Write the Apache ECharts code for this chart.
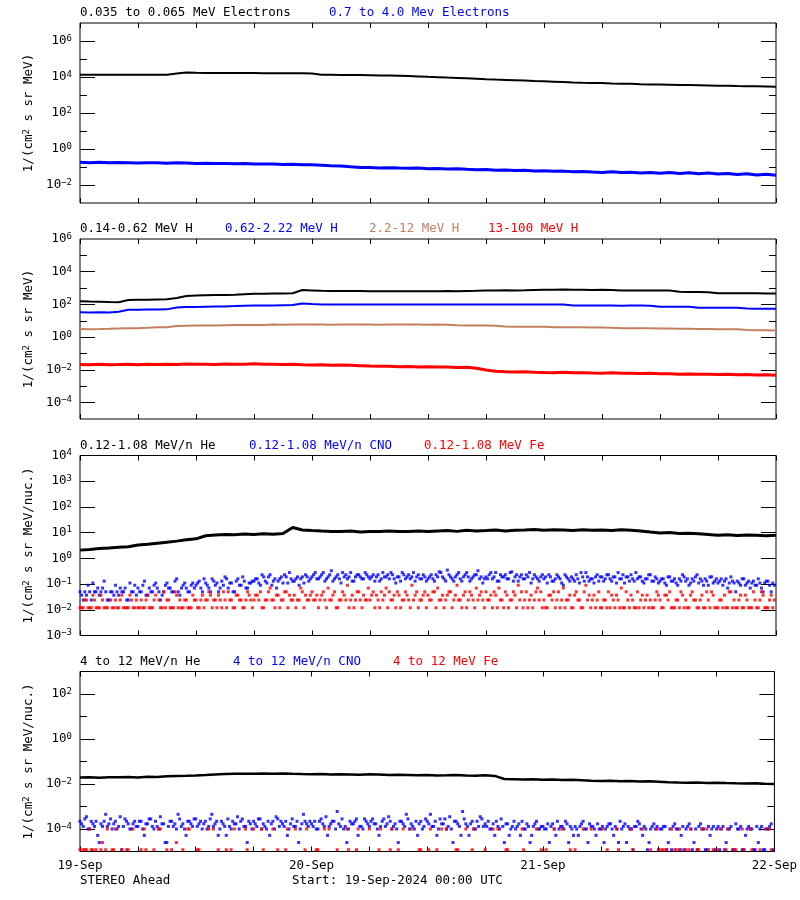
<!DOCTYPE html>
<html><head><meta charset="utf-8">
<script src="https://cdn.jsdelivr.net/npm/echarts@6/dist/echarts.min.js"></script>
<style>html,body{margin:0;padding:0;background:#fff}#c{width:800px;height:900px}</style>
</head><body><div id="c"></div>
<script>
const _ = null;
// ---------- labels ----------
const dayLabels = ['19-Sep', '20-Sep', '21-Sep', '22-Sep'];
const spacecraft = 'STEREO Ahead';
const startLabel = 'Start: 19-Sep-2024 00:00 UTC';
const titles1 = ['0.035 to 0.065 MeV Electrons', '0.7 to 4.0 Mev Electrons'];
const titles2 = ['0.14-0.62 MeV H', '0.62-2.22 MeV H', '2.2-12 MeV H', '13-100 MeV H'];
const titles3 = ['0.12-1.08 MeV/n He', '0.12-1.08 MeV/n CNO', '0.12-1.08 MeV Fe'];
const titles4 = ['4 to 12 MeV/n He', '4 to 12 MeV/n CNO', '4 to 12 MeV Fe'];
const unitE = '1/(cm{s|2} s sr MeV)';
const unitN = '1/(cm{s|2} s sr MeV/nuc.)';
// ---------- tick values ----------
const p1Major = [1e-2, 1, 1e2, 1e4, 1e6];
const p1Minor = [1e-1, 1e1, 1e3, 1e5];
const p1Labels = [1e-2, 1, 1e2, 1e4, 1e6];
const p2Major = [1e-4, 1e-2, 1, 1e2, 1e4];
const p2Minor = [1e-3, 1e-1, 1e1, 1e3, 1e5];
const p2Labels = [1e-4, 1e-2, 1, 1e2, 1e4, 1e6];
const p3Major = [1e-2, 1e-1, 1, 1e1, 1e2, 1e3];
const p3Minor = [];
const p3Labels = [1e-3, 1e-2, 1e-1, 1, 1e1, 1e2, 1e3, 1e4];
const p4Major = [1e-4, 1e-2, 1, 1e2];
const p4Minor = [1e-3, 1e-1, 1e1];
const p4Labels = [1e-4, 1e-2, 1, 1e2];
// ---------- time sampling (hours since 19-Sep 00:00) ----------
const lineStepHours = 1;       // hourly line series
const dotStepHours = 1 / 3;    // 20-minute dot series
const dotOffsetHours = 1 / 6;  // second dot array sits between the first one's samples
// ---------- panel 1: electrons ----------
const elecLo = [13500,13400,13500,13500,13400,13500,13500,13400,13500,13500,
  15800,17800,17000,16600,16600,16500,16600,16500,16500,16400,16400,16300,16300,16200,
  15800,13200,13200,12900,12900,12900,12600,12300,12000,11700,11200,10700,10200,9800,
  9300,8900,8500,8100,7600,7200,6900,6600,6300,6000,5750,5500,5250,5000,4800,
  4700,4570,4370,4270,4170,3980,3890,3800,3720,3630,3550,3470,3390,3310,
  3240,3160,3090,3020,2950,2880];
const elecHi = [.182,.174,.182,.170,.178,.174,.166,.174,.170,.162,.170,.166,.158,.162,.155,.158,
  .151,.155,.148,.145,.148,.138,.141,.135,.132,.126,.117,.112,.102,.095,.093,.089,.091,.087,
  .085,.087,.081,.083,.078,.079,.074,.071,.072,.065,.068,.063,.065,.060,.062,.058,.059,.055,
  .056,.052,.050,.054,.049,.051,.047,.050,.045,.049,.044,.048,.042,.046,.041,.044,.038,.042,
  .036,.040,.035];
// ---------- panel 2: protons ----------
const protA = [155,151,148,141,138, 186,195,195,204,209, 251,331,355,363,372,380,389,
  427,447,457,468,468,479, 759,724,676,661,661,661,661,646,646,646,
  631,646,631,646,646,661,646,661,676, 724,724,741,724,741,776,794,794,813,794,794,776,794,776,
  724,724,724,708,724,708, 589,575,575,562, 490,479,479,479,479,468,468];
const protB = [33.1,32.4,33.1,32.4,35.5, 47.9,47.9,49,49,50.1, 66.1,69.2,70.8,72.4,74.1,75.9,79.4,
  83.2,85.1,85.1,87.1,89.1,91.2, 115,107,
  100,99,100,98,100,99,100,100,98,100,99,100,98,100,99,100,100,98,99,100,98,99,100,98,99,98,
  86,85,85,86,85,84,85,85,84, 73,72,73,72, 63,63,62,63,62, 56,55,55,55];
const protC = [3.16,3.09,3.16,3.24, 3.39,3.47,3.55,3.72, 3.98,4.07,
  4.79,5.01,5.13,5.25,5.25,5.37,5.5,5.5,5.62,5.62,
  5.89,5.75,5.89,6.03,5.89,5.89,5.75,5.89,6.03,5.89,5.89,5.75,5.89,5.89,6.03,5.89,5.75,5.89,5.75,
  5.37,5.25,5.25,5.13,5.01, 4.47,4.37,4.37,4.37,4.27, 4.07,3.98,3.98,3.98,3.89,3.89,3.8,
  3.55,3.47,3.47,3.47,3.39,3.39,3.31,3.24, 3.16,3.16,3.09,3.09,3.02, 2.75,2.69,2.63,2.57];
const protD = [.0214,.0204,.0219,.0209,.0214,.0224,.0209,.0219,.0214,.0224,.0214,.0229,.0219,
  .0224,.0214,.0229,.0219,.0224,.0234,.0219,.0224,.0214,.0219,.0209,.0200,
  .0204,.0195,.0200,.0191,.0182,.0174,.0170,.0166,.0158,.0162,
  .0151,.0155,.0148,.0151,.0141,.0145,.0126,
  .0100,.0083,.0078,.0074,.0076,.0071,.0069,
  .0068,.0071,.0066,.0068,.0065,.0063,.0066,.0062,.0063,.0060,.0062,.0059,
  .0058,.0055,.0056,.0054,.0055,.0052,.0054,.0050,.0052,.0049,.0050,.0047];
// ---------- panel 3: 0.12-1.08 MeV/n ions ----------
const heLow = [2.09,2.19,2.40, 2.51,2.69,2.82, 3.31,3.55,3.89,4.27, 4.68,5.25,5.75,7.59,
  8.13,8.51,8.32,8.91,8.51,9.12,8.71,9.33, 15.8,
  12.6,12.0,11.5,11.2,11.0,11.5,10.7,11.2,11.0,11.5,11.0,
  11.2,11.7,11.0,11.5,12.0,11.2,12.3,11.5,12.0,12.6,11.7,12.3,
  12.6,13.2,12.3,12.9,12.6,12.0,12.9,12.3,12.6,12.0,12.9,12.3,11.7,
  10.5,9.77,10.2,9.33,9.55,9.12,8.51, 7.94,8.32,7.76,8.13,7.94,7.59,7.94];
const cnoLow = [
  .05,.024,.037,.05,.11,.05,.037,.07,.05,.024,.05,.09,.037,.05,.07,.024,.05,.09,
  .07,.05,.13,.037,.05,.09,.07,.024,.05,.11,.07,.05,.16,.037,.09,.07,.05,.11,
  .09,.13,.05,.11,.07,.16,.09,.05,.13,.19,.07,.11,.05,.16,.09,.13,.07,.11,
  .13,.16,.09,.19,.11,.23,.13,.07,.16,.11,.19,.28,.13,.16,.09,.19,.23,.13,
  .19,.28,.16,.23,.13,.19,.33,.16,.23,.11,.19,.16,.28,.13,.23,.19,.16,.23,
  .16,.23,.19,.13,.28,.19,.16,.23,.11,.19,.28,.16,.23,.19,.13,.23,.16,.19,
  .16,.23,.13,.19,.28,.16,.35,.19,.13,.23,.16,.19,.28,.13,.19,.23,.16,.11,
  .19,.23,.16,.28,.13,.19,.23,.16,.30,.19,.13,.23,.16,.19,.11,.23,.16,.19,
  .16,.11,.19,.13,.23,.16,.09,.19,.13,.16,.23,.11,.19,.28,.13,.16,.19,.13,
  .19,.16,.23,.13,.19,.28,.16,.11,.19,.23,.13,.16,.19,.11,.16,.23,.13,.16,
  .13,.16,.09,.19,.13,.11,.16,.23,.13,.09,.16,.19,.11,.13,.16,.09,.19,.13,
  .11,.16,.13,.07,.19,.11,.13,.09,.16,.11,.07,.13,.09,.11,.05,.13,.09,.11];
const cnoLowB = [
  .037,.05,.09,.024,.05,.07,.05,.13,.024,.05,.037,.05,.07,.05,.024,.11,.05,.037,
  .05,.09,.037,.07,.05,.11,.05,.037,.09,.07,.05,.13,.05,.07,.11,.05,.09,.07,
  .11,.07,.16,.09,.05,.13,.11,.07,.09,.16,.11,.05,.13,.09,.19,.07,.11,.13,
  .16,.11,.23,.13,.19,.09,.16,.13,.19,.23,.11,.16,.13,.19,.16,.11,.19,.16,
  .23,.16,.19,.28,.16,.23,.13,.19,.16,.28,.23,.19,.13,.19,.23,.16,.28,.19,
  .19,.13,.23,.16,.19,.23,.28,.16,.19,.13,.23,.19,.16,.28,.19,.16,.23,.13,
  .19,.16,.23,.30,.19,.13,.23,.16,.19,.28,.13,.23,.19,.16,.23,.33,.19,.16,
  .16,.28,.19,.13,.23,.19,.16,.28,.13,.23,.19,.16,.23,.28,.16,.19,.13,.23,
  .19,.23,.13,.16,.19,.11,.23,.16,.19,.13,.16,.28,.13,.19,.16,.11,.23,.19,
  .13,.23,.16,.19,.11,.16,.23,.19,.13,.16,.28,.19,.13,.16,.23,.13,.19,.11,
  .16,.11,.19,.13,.16,.09,.13,.19,.16,.11,.13,.23,.16,.09,.13,.19,.11,.16,
  .13,.09,.16,.11,.13,.05,.11,.16,.09,.13,.11,.09,.16,.07,.11,.13,.05,.09];
const feLow = [
  .012,.012,.024,.012,.037,.012,.012,.024,.012,_,.012,.024,.012,.037,.012,.012,.024,.012,
  .012,.024,.012,.037,.012,.024,_,.012,.05,.024,.012,.012,.037,.024,.012,.024,.012,.037,
  .024,.012,.037,.024,.05,.012,.024,.037,.012,.024,.05,.024,.012,.037,.024,.012,.05,.024,
  .024,.037,.05,.012,.024,.07,.024,.037,.012,.024,.05,.037,.024,.012,.024,.05,.037,.024,
  .05,.024,.012,.037,.024,.07,.024,.05,.012,.024,.037,.09,.024,.012,.05,.024,.037,.024,
  .024,.05,.037,.012,.024,.07,.05,.024,.012,.037,.024,.05,.024,.09,.037,.012,.024,.05,
  .037,.024,.05,.07,.024,.012,.037,.05,.024,.09,.024,.037,.012,.05,.024,.07,.037,.024,
  .05,.024,.012,.037,.07,.024,.05,.012,.024,.037,.09,.05,.024,.012,.037,.024,.07,.05,
  .024,.012,.037,.05,.024,.012,.07,.024,.037,.012,.05,.024,.012,.09,.037,.024,.012,.05,
  .012,.024,.05,.037,.012,.024,.07,.012,.024,.037,.012,.05,.024,.012,.037,.024,.012,.05,
  .024,.012,.037,.05,.012,.024,.012,.037,.024,.012,.05,.024,.012,.037,.012,.024,.05,.012,
  .012,.024,.037,.012,.05,.024,.012,.037,.012,.024,.012,.05,.012,.024,.037,.012,.024,.012];
const feLowB = [
  .012,.024,.012,.012,.024,.012,.037,.012,.012,.024,.012,.012,.024,.012,.012,.037,.012,.024,
  .012,.012,.024,.012,.012,.037,.024,.012,.012,.024,.012,.05,.012,.012,.024,.012,.012,.024,
  .012,.024,.012,.024,.037,.024,.012,.024,.05,.012,.024,.012,.037,.024,.012,.024,.037,.012,
  .037,.024,.012,.024,.05,.024,.012,.037,.024,.05,.012,.024,.037,.024,.07,.012,.024,.037,
  .024,.037,.024,.05,.012,.024,.037,.012,.024,.05,.024,.012,.037,.024,.05,.012,.024,.07,
  .037,.012,.024,.05,.037,.012,.024,.037,.05,.012,.024,.037,.012,.024,.05,.024,.037,.012,
  .024,.05,.012,.024,.037,.024,.05,.012,.037,.024,.012,.05,.024,.037,.012,.024,.05,.012,
  .024,.037,.05,.012,.024,.012,.037,.024,.05,.012,.024,.012,.05,.024,.012,.05,.024,.012,
  .012,.037,.024,.012,.05,.024,.012,.024,.012,.037,.024,.012,.05,.024,.012,.037,.024,.012,
  .024,.012,.012,.024,.037,.012,.012,.05,.012,.024,.012,.012,.037,.024,.012,.012,.024,.037,
  .012,.037,.024,.012,.012,.024,.05,.012,.012,.037,.024,.012,.024,.012,.05,.012,.037,.012,
  .024,.012,.012,.05,.012,.012,.024,.012,.037,.012,.012,.024,.012,.05,.012,.012,.037,.024];
// ---------- panel 4: 4-12 MeV/n ions ----------
const heHigh = [.0195,.0200,.0191,.0200, .0200,.0204,.0195,.0209,.0204,.0219, .0229,.0234,.0240,.0251,
  .0263,.0275,.0282,.0288,.0282,.0295,.0288,.0295,.0282,
  .0275,.0269,.0275,.0263,.0269,.0263,.0257,.0269,.0263,.0251,.0257,.0251,.0245,.0251,.0240,.0245,.0251,.0240,.0234,.0245,.0229,
  .0166,.0162,.0158,.0162,.0155,.0158,.0151,.0155,.0148,
  .0138,.0135,.0138,.0132,.0135,.0129,.0132,.0126,
  .0120,.0117,.0115,.0117,.0112,.0115,.0110, .0107,.0105,.0107,.0102,.0100];
const cnoHigh = [
  2.2e-4,1.3e-4,3.5e-4,1e-4,1.7e-4,2.2e-4,2.5e-5,1.3e-4,4.5e-4,1.7e-4,1e-4,2.2e-4,1.3e-4,1.2e-5,2.8e-4,1.7e-4,1e-4,2.2e-4,
  1.3e-4,2.2e-4,5.2e-5,1.7e-4,2.8e-4,1e-4,1.3e-4,3.5e-4,1.7e-4,2.5e-5,2.2e-4,1.3e-4,1e-4,2.8e-4,1.7e-4,5.2e-5,2.2e-4,1.3e-4,
  2.8e-4,1.7e-4,1e-4,2.2e-4,1.3e-4,4.5e-4,1.7e-4,5.2e-5,2.2e-4,1.3e-4,2.8e-4,1e-4,1.7e-4,3.5e-4,2.2e-4,1.3e-4,2.5e-5,1.7e-4,
  2.2e-4,1.3e-4,2.8e-4,1.7e-4,1e-4,5.2e-5,2.2e-4,3.5e-4,1.3e-4,1.7e-4,2.2e-4,1e-4,2.8e-4,1.3e-4,2.5e-5,1.7e-4,2.2e-4,1.3e-4,
  1.7e-4,2.2e-4,1e-4,2.8e-4,1.3e-4,5.2e-5,1.7e-4,2.2e-4,6e-4,1.3e-4,1e-4,2.5e-5,2.2e-4,1.7e-4,2.8e-4,1.3e-4,1e-4,2.2e-4,
  1.3e-4,2.8e-4,1.7e-4,5.2e-5,2.2e-4,1.3e-4,3.5e-4,1e-4,1.7e-4,2.5e-5,2.2e-4,1.3e-4,2.8e-4,1.7e-4,1e-4,5.2e-5,2.2e-4,1.3e-4,
  2.2e-4,4.5e-4,1.3e-4,5.2e-5,2.8e-4,1.7e-4,1e-4,3.5e-4,2.5e-5,2.2e-4,1.3e-4,6e-4,1.7e-4,5.2e-5,2.2e-4,1e-4,1.3e-4,2.8e-4,
  1.7e-4,2.2e-4,1e-4,5.2e-5,1.3e-4,2.8e-4,2.5e-5,1.7e-4,1e-4,2.2e-4,1.3e-4,5.2e-5,1e-4,1.7e-4,2.5e-5,1.3e-4,2.2e-4,1e-4,
  1.3e-4,1e-4,2.5e-5,1.7e-4,5.2e-5,1e-4,1.3e-4,2.2e-4,2.5e-5,1e-4,1.3e-4,5.2e-5,1.7e-4,1e-4,2.5e-5,1.3e-4,1e-4,1.7e-4,
  1e-4,2.5e-5,1.3e-4,1.7e-4,5.2e-5,1e-4,2.2e-4,1.3e-4,2.5e-5,1e-4,1.2e-5,1.3e-4,1.7e-4,5.2e-5,1e-4,2.5e-5,1.3e-4,1e-4,
  1.2e-5,1e-4,1.3e-4,2.5e-5,1.2e-5,1.7e-4,1e-4,5.2e-5,1.2e-5,1.3e-4,1e-4,2.5e-5,1.2e-5,1.7e-4,1e-4,1.2e-5,5.2e-5,1.3e-4,
  1e-4,1.2e-5,1.3e-4,2.5e-5,1e-4,1.2e-5,1.7e-4,1e-4,1.2e-5,5.2e-5,1.3e-4,1e-4,1.2e-5,2.5e-5,1.3e-4,1.2e-5,1e-4,1.7e-4];
const cnoHighB = [
  1.7e-4,2.8e-4,1e-4,2.2e-4,1.3e-4,5.2e-5,1.7e-4,2.2e-4,1.3e-4,2.8e-4,1.7e-4,1e-4,3.5e-4,1.3e-4,2.2e-4,1e-4,1.7e-4,1.3e-4,
  2.2e-4,1e-4,1.7e-4,2.8e-4,1.3e-4,2.2e-4,1e-4,1.7e-4,2.5e-5,1.3e-4,2.2e-4,1.7e-4,4.5e-4,1.3e-4,1e-4,2.2e-4,1.7e-4,2.8e-4,
  1.3e-4,2.2e-4,1.7e-4,1e-4,2.8e-4,1.3e-4,2.2e-4,1e-4,1.7e-4,5.2e-5,1.3e-4,2.2e-4,1.7e-4,1e-4,2.8e-4,1.3e-4,2.2e-4,1e-4,
  1.7e-4,2.8e-4,1e-4,1.3e-4,2.2e-4,1.7e-4,1e-4,2.8e-4,2.2e-4,1.3e-4,5.2e-5,1.7e-4,1.3e-4,2.2e-4,1e-4,4.5e-4,1.7e-4,2.2e-4,
  1.3e-4,1e-4,2.2e-4,1.7e-4,3.5e-4,1.3e-4,2.2e-4,1e-4,1.7e-4,2.8e-4,1.3e-4,1e-4,1.7e-4,2.2e-4,5.2e-5,1.3e-4,2.8e-4,1.7e-4,
  2.2e-4,1.7e-4,1e-4,1.3e-4,2.8e-4,1.7e-4,2.2e-4,1.3e-4,1e-4,2.2e-4,1.7e-4,4.5e-4,1e-4,1.3e-4,2.2e-4,1.7e-4,1e-4,2.8e-4,
  1.7e-4,1.3e-4,2.2e-4,1e-4,1.7e-4,2.8e-4,1.3e-4,1e-4,2.2e-4,1.7e-4,5.2e-5,2.8e-4,1.3e-4,1.7e-4,1e-4,2.2e-4,3.5e-4,1.3e-4,
  1.3e-4,1e-4,1.7e-4,2.2e-4,1e-4,1.3e-4,1.7e-4,5.2e-5,1.3e-4,1e-4,1.7e-4,2.2e-4,1e-4,1.3e-4,5.2e-5,1.7e-4,1e-4,1.3e-4,
  1e-4,1.7e-4,1.3e-4,1e-4,2.2e-4,1.3e-4,1e-4,1.7e-4,1.3e-4,5.2e-5,1e-4,1.3e-4,2.2e-4,1e-4,1.7e-4,1.3e-4,5.2e-5,1e-4,
  1.3e-4,1e-4,1.7e-4,1e-4,1.3e-4,2.5e-5,1e-4,1.7e-4,1.3e-4,1e-4,1.3e-4,2.2e-4,1e-4,1.3e-4,1.2e-5,1e-4,1.7e-4,1.3e-4,
  1e-4,1.3e-4,1.2e-5,1e-4,1.3e-4,1e-4,1.2e-5,1.3e-4,1e-4,1.7e-4,1.2e-5,1e-4,1.3e-4,1e-4,1.2e-5,1.3e-4,1e-4,1.2e-5,
  1.3e-4,1e-4,1.2e-5,1e-4,1.3e-4,1.2e-5,1e-4,1.3e-4,1.2e-5,1e-4,1e-4,1.2e-5,1.3e-4,1e-4,1.2e-5,1e-4,1.3e-4,1.2e-5];
const feHigh = [
  1.2e-5,1.2e-5,1.2e-5,1e-4,1.2e-5,1.2e-5,_,2.5e-5,1.2e-5,_,1.2e-5,1e-4,_,1.2e-5,_,1.2e-5,_,_,
  _,1.2e-5,1e-4,_,_,1.2e-5,_,1e-4,_,1.2e-5,_,_,2.5e-5,_,1.2e-5,_,1e-4,_,
  _,1.2e-5,_,_,1e-4,_,_,1.2e-5,_,_,_,1.2e-5,1e-4,_,_,_,1.2e-5,_,
  1e-4,_,_,1.2e-5,_,_,1e-4,_,_,_,1.2e-5,_,_,1e-4,_,_,1.2e-5,_,
  _,_,1.2e-5,_,1e-4,_,_,_,1.2e-5,_,_,1e-4,_,_,1.2e-5,_,_,_,
  1e-4,_,_,1.2e-5,_,_,_,1e-4,_,1.2e-5,_,_,_,1e-4,_,_,1.2e-5,_,
  _,1e-4,_,1.2e-5,_,_,1e-4,_,_,1.2e-5,_,_,1e-4,_,1.2e-5,_,_,_,
  1.2e-5,_,_,_,1e-4,_,_,1.2e-5,_,_,_,_,1.2e-5,_,_,_,1e-4,_,
  _,1.2e-5,_,_,_,_,1e-4,_,_,_,1.2e-5,_,_,_,_,1e-4,_,_,
  _,_,1.2e-5,_,_,1e-4,_,_,_,_,1.2e-5,_,_,1e-4,_,_,_,_,
  1.2e-5,1.2e-5,_,_,1e-4,1.2e-5,_,1.2e-5,_,_,1e-4,_,1.2e-5,_,_,1e-4,_,1.2e-5,
  _,1e-4,_,1.2e-5,_,_,1.2e-5,_,1e-4,_,_,1.2e-5,_,_,_,1e-4,_,1.2e-5];
const feHighB = [
  _,1.2e-5,_,1.2e-5,_,_,1.2e-5,_,1e-4,_,1.2e-5,_,_,_,1.2e-5,_,1e-4,_,
  _,_,1.2e-5,_,_,_,1e-4,_,_,_,1.2e-5,_,_,_,_,1e-4,_,_,
  1.2e-5,_,_,_,_,1e-4,_,_,_,1.2e-5,_,_,_,_,_,1e-4,_,_,
  _,_,1e-4,_,_,_,_,1.2e-5,_,_,1e-4,_,_,_,_,_,1e-4,_,
  _,1.2e-5,_,_,_,1e-4,_,_,_,_,_,1.2e-5,_,_,1e-4,_,_,_,
  _,_,_,1e-4,_,_,1.2e-5,_,_,_,1e-4,_,_,_,_,1.2e-5,_,_,
  1.2e-5,_,_,_,1e-4,_,_,_,_,1.2e-5,_,_,_,_,1e-4,_,_,_,
  _,_,1e-4,_,_,_,1.2e-5,_,_,_,_,1e-4,_,_,_,_,_,1.2e-5,
  _,_,_,1e-4,_,_,_,_,1.2e-5,_,_,_,1e-4,_,_,_,_,_,
  1e-4,_,_,_,_,1.2e-5,_,_,_,1e-4,_,_,_,_,_,1.2e-5,_,1e-4,
  _,1.2e-5,1.2e-5,_,_,1.2e-5,1e-4,_,1.2e-5,1.2e-5,_,_,1.2e-5,1e-4,_,1.2e-5,_,_,
  1.2e-5,_,_,1e-4,_,1.2e-5,_,_,1.2e-5,_,1e-4,_,_,1.2e-5,_,_,1e-4,_];

// ---------- styling / layout ----------
const FONT = '"DejaVu Sans Mono", monospace';
const FS = 12.5;
const BLACK = '#000000', BLUE = '#0000ff', TAN = '#c48060', RED = '#ff0000';
const GRID_LEFT = 80, GRID_W = 696, GRID_H = 180;
const panels = [
  { top: 23, min: 1e-3, max: 1e7, major: p1Major, minor: p1Minor, labels: p1Labels, unit: unitE,
    titles: titles1, titleX: [80, 329], colors: [BLACK, BLUE],
    series: [{ d: [elecLo], kind: 'line', w: 2 }, { d: [elecHi], kind: 'line', w: 3 }] },
  { top: 239, min: 1e-5, max: 1e6, major: p2Major, minor: p2Minor, labels: p2Labels, unit: unitE,
    titles: titles2, titleX: [80, 225, 369, 488], colors: [BLACK, BLUE, TAN, RED],
    series: [{ d: [protA], kind: 'line', w: 2 }, { d: [protB], kind: 'line', w: 2 },
             { d: [protC], kind: 'line', w: 2 }, { d: [protD], kind: 'line', w: 3 }] },
  { top: 455.5, min: 1e-3, max: 1e4, major: p3Major, minor: p3Minor, labels: p3Labels, unit: unitN,
    titles: titles3, titleX: [80, 249, 424], colors: [BLACK, BLUE, RED],
    series: [{ d: [heLow], kind: 'line', w: 3 }, { d: [cnoLow, cnoLowB], kind: 'dot' }, { d: [feLow, feLowB], kind: 'dot' }] },
  { top: 671.5, min: 1e-5, max: 1e3, major: p4Major, minor: p4Minor, labels: p4Labels, unit: unitN,
    titles: titles4, titleX: [80, 233, 393], colors: [BLACK, BLUE, RED],
    series: [{ d: [heHigh], kind: 'line', w: 2.5 }, { d: [cnoHigh, cnoHighB], kind: 'dot' }, { d: [feHigh, feHighB], kind: 'dot' }] }
];

function expLabel(v) {
  const e = Math.round(Math.log10(v));
  return '10{s|' + String(e).replace('-', '\u2212') + '}';
}
const supRich = { s: { fontSize: 9, fontFamily: FONT, color: '#000', verticalAlign: 'top', lineHeight: 10 } };

const grid = [], xAxis = [], yAxis = [], series = [], graphic = [];
panels.forEach((p, g) => {
  grid.push({ left: GRID_LEFT, top: p.top, width: GRID_W, height: GRID_H, show: true,
    borderColor: '#000', borderWidth: 1, backgroundColor: 'transparent' });
  ['bottom', 'top'].forEach(pos => {
    xAxis.push({ gridIndex: g, type: 'value', min: 0, max: 72, interval: 6, position: pos,
      axisLine: { show: false }, splitLine: { show: false },
      axisTick: { show: true, inside: true, length: 5, lineStyle: { color: '#000', width: 1 } },
      axisLabel: { show: pos === 'bottom' && g === 3, showMinLabel: true, showMaxLabel: true,
        formatter: v => (v % 24 === 0 ? dayLabels[v / 24] : ''), margin: 8,
        color: '#000', fontFamily: FONT, fontSize: FS } });
  });
  const yBase = { gridIndex: g, type: 'log', logBase: 10, min: p.min, max: p.max,
    axisLine: { show: false }, splitLine: { show: false }, minorTick: { show: false } };
  ['left', 'right'].forEach(pos => {
    yAxis.push(Object.assign({}, yBase, { position: pos,
      axisTick: { show: true, inside: true, length: 15, customValues: p.major, lineStyle: { color: '#000' } },
      axisLabel: pos === 'left' ? { show: true, customValues: p.labels, formatter: expLabel, margin: 8,
        color: '#000', fontFamily: FONT, fontSize: FS, lineHeight: 14, rich: supRich } : { show: false },
      name: pos === 'left' ? p.unit : '', nameLocation: 'middle', nameGap: 40,
      nameTextStyle: { color: '#000', fontFamily: FONT, fontSize: FS, rich: supRich } }));
    yAxis.push(Object.assign({}, yBase, { position: pos,
      axisTick: { show: p.minor.length > 0, inside: true, length: 7,
        customValues: p.minor.length ? p.minor : [p.min], lineStyle: { color: '#000' } },
      axisLabel: { show: false } }));
  });
  p.series.forEach((s, k) => {
    const step = s.kind === 'line' ? lineStepHours : dotStepHours;
    let data = [];
    s.d.forEach((arr, j) => {
      data = data.concat(arr.map((v, i) => [i * step + j * dotOffsetHours, v]).filter(d => d[1] !== null));
    });
    const base = { xAxisIndex: g * 2, yAxisIndex: g * 4, data, silent: true, animation: false, z: 3 + k };
    if (s.kind === 'line') {
      series.push(Object.assign(base, { type: 'line', showSymbol: false, symbol: 'none',
        lineStyle: { color: p.colors[k], width: s.w } }));
    } else {
      series.push(Object.assign(base, { type: 'scatter', symbol: 'rect', symbolSize: [3, 3],
        itemStyle: { color: p.colors[k] } }));
    }
  });
  p.titles.forEach((t, k) => {
    graphic.push({ type: 'text', x: p.titleX[k], y: p.top - 10, silent: true,
      style: { text: t, fill: p.colors[k], font: FS + 'px ' + FONT, verticalAlign: 'middle', align: 'left' } });
  });
});
graphic.push({ type: 'text', x: 80, y: 881, silent: true,
  style: { text: spacecraft, fill: '#000', font: FS + 'px ' + FONT, verticalAlign: 'middle', align: 'left' } });
graphic.push({ type: 'text', x: 292, y: 881, silent: true,
  style: { text: startLabel, fill: '#000', font: FS + 'px ' + FONT, verticalAlign: 'middle', align: 'left' } });

const chart = echarts.init(document.getElementById('c'), null, { renderer: 'canvas' });
chart.setOption({ backgroundColor: '#fff', animation: false, grid, xAxis, yAxis, series, graphic });
</script></body></html>
